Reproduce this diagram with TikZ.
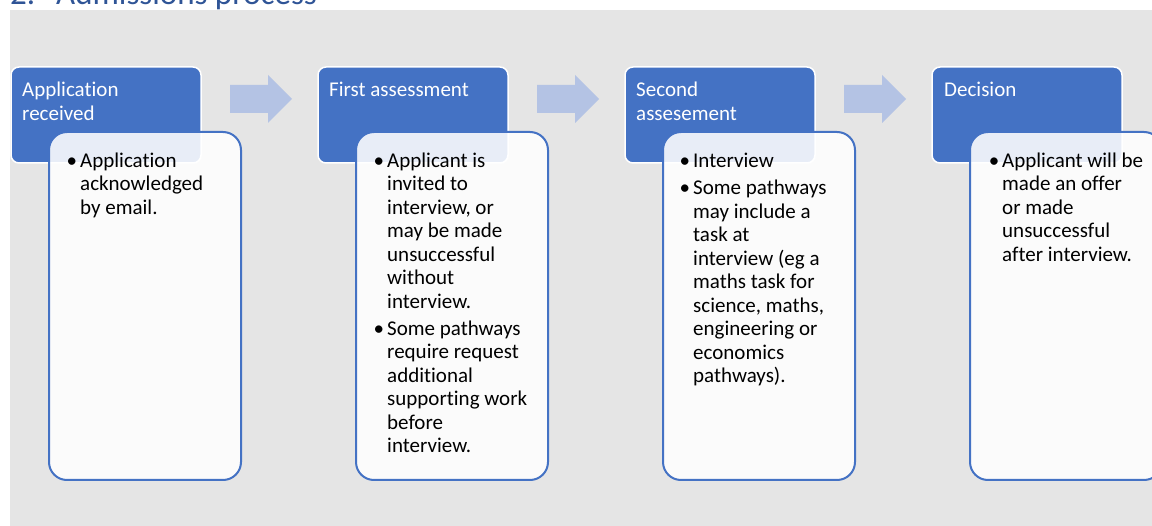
\documentclass[tikz,border=0pt]{standalone}
\usepackage{fontspec}
\setmainfont{Carlito}[Ligatures={NoCommon,NoContextual}]
\definecolor{hblue}{RGB}{68,114,196}
\definecolor{titleblue}{RGB}{47,84,150}
\definecolor{bggray}{RGB}{229,229,229}
\definecolor{arrowblue}{RGB}{180,195,228}
\newcommand{\myitem}{\llap{\textbullet\hspace{3pt}}}
\newcommand{\topfix}{\rule{0pt}{17pt}}
\begin{document}
\begin{tikzpicture}[x=1pt,y=-1pt,
  hdrbox/.style={draw=white, line width=1.5pt, fill=hblue, rounded corners=8pt,
    minimum width=190pt, minimum height=96pt, anchor=north west, inner sep=0pt, outer sep=0pt},
  bodybox/.style={draw=hblue, line width=2pt, fill=white, fill opacity=0.88, rounded corners=18pt,
    minimum width=192pt, minimum height=348pt, anchor=north west, inner sep=0pt, outer sep=0pt},
  hdrtext/.style={text=white, font=\fontsize{21}{24}\selectfont, align=left, anchor=north west, inner sep=0pt},
  bodytext/.style={text=black, font=\fontsize{21}{23.5}\selectfont, align=left, anchor=north west, inner sep=0pt},
  titletext/.style={text=titleblue, font=\fontsize{33}{36}\selectfont, anchor=base west, inner sep=0pt},
  blockarrow/.style={fill=arrowblue}
]
\clip (0,0) rectangle (1152,526);
\node[titletext] (title) at (10,5) {\makebox[46pt][l]{2.}Admissions process};
\fill[bggray] (10,10) rectangle (1152,526);

% column 1
\node[hdrbox] (h1) at (11,67) {};
\node[hdrtext] (ht1) at (22,79) {\topfix Application\\received};
\node[bodybox] (b1) at (49,132) {};
\node[bodytext] (bt1) at (80,150) {\topfix\myitem Application\\acknowledged\\by email.};

% column 2
\node[hdrbox] (h2) at (318,67) {};
\node[hdrtext] (ht2) at (329,79) {\topfix First assessment};
\node[bodybox] (b2) at (356,132) {};
\node[bodytext] (bt2) at (387,150) {\topfix\myitem Applicant is\\invited to\\interview, or\\may be made\\unsuccessful\\without\\interview.\\[3.5pt]\myitem Some pathways\\require request\\additional\\supporting work\\before\\interview.};

% column 3
\node[hdrbox] (h3) at (625,67) {};
\node[hdrtext] (ht3) at (636,79) {\topfix Second\\assesement};
\node[bodybox] (b3) at (663,132) {};
\node[bodytext] (bt3) at (693,150) {\topfix\myitem Interview\\[4pt]\myitem Some pathways\\may include a\\task at\\interview (eg a\\maths task for\\science, maths,\\engineering or\\economics\\pathways).};

% column 4
\node[hdrbox] (h4) at (932,67) {};
\node[hdrtext] (ht4) at (944,79) {\topfix Decision};
\node[bodybox] (b4) at (970,132) {};
\node[bodytext] (bt4) at (1002,150) {\topfix\myitem Applicant will be\\made an offer\\or made\\unsuccessful\\after interview.};

% block arrows
\foreach \o [count=\i] in {0,307,614}{
  \fill[blockarrow] (230+\o,85) -- (268+\o,85) -- (268+\o,75) -- (292+\o,99)
    -- (268+\o,123) -- (268+\o,113) -- (230+\o,113) -- cycle;
}
\end{tikzpicture}
\end{document}
